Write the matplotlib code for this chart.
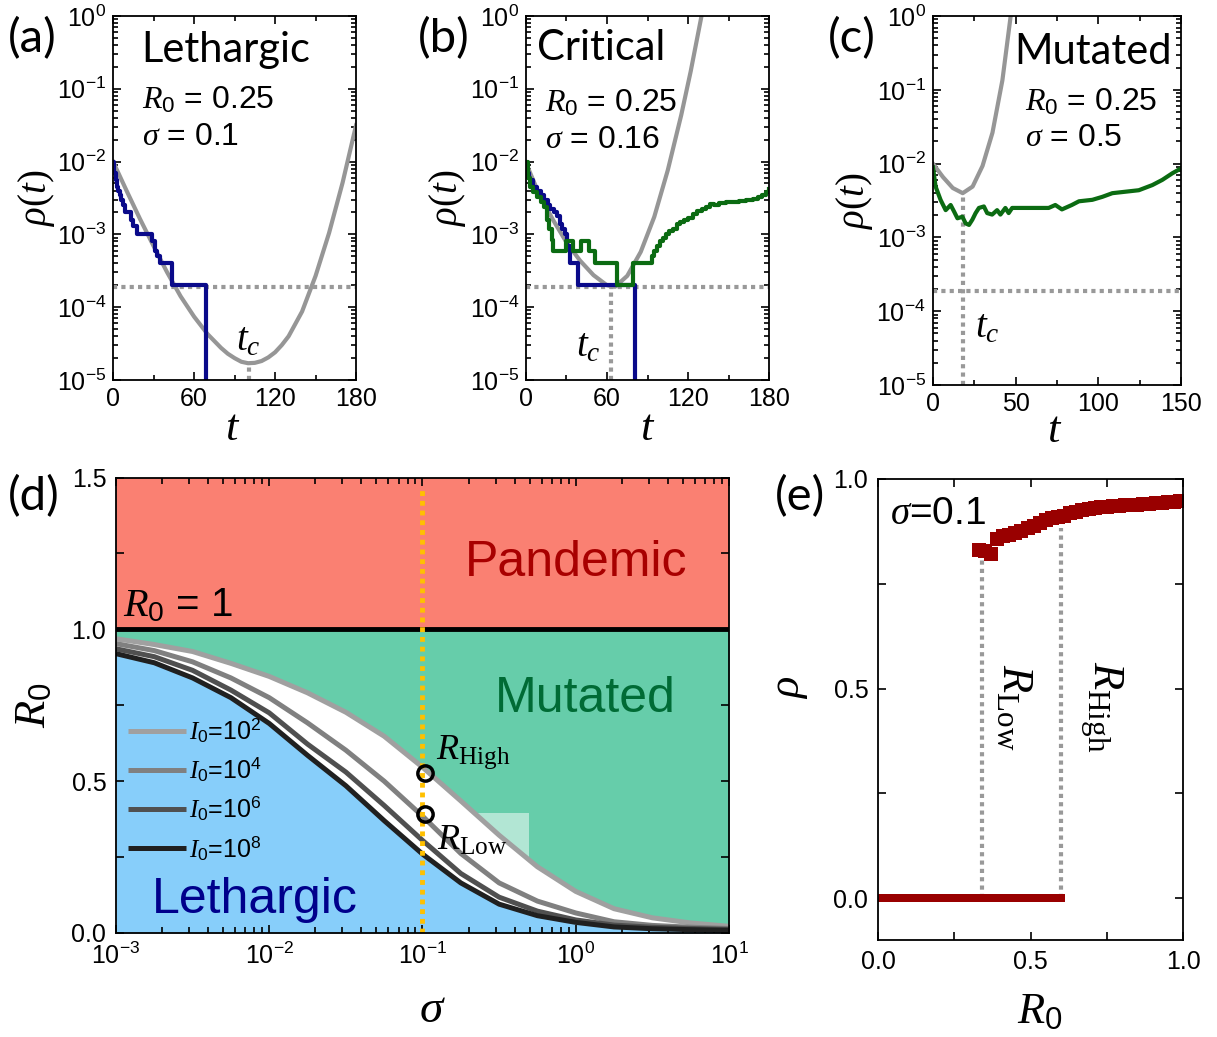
import matplotlib
matplotlib.use('Agg')
import matplotlib.pyplot as plt
import numpy as np
from matplotlib.ticker import MultipleLocator, LogLocator, NullFormatter
from matplotlib.patches import Rectangle

plt.rcParams['font.family'] = ['Liberation Sans', 'DejaVu Sans']
plt.rcParams['mathtext.fontset'] = 'custom'
plt.rcParams['mathtext.rm'] = 'Liberation Sans'
plt.rcParams['mathtext.it'] = 'Liberation Serif:italic'
plt.rcParams['mathtext.sf'] = 'Liberation Serif'
plt.rcParams['mathtext.bf'] = 'Liberation Sans:bold'

# ---------------- panel (a): lethargic ----------------
t_gray_a = [0, 10, 20, 30, 40, 50, 60, 70, 80, 85, 90, 95, 100, 105, 110, 115, 120, 125, 130,
            140, 150, 160, 170, 180]
log_gray_a = [-2.0, -2.40, -2.79, -3.16, -3.52, -3.85, -4.13, -4.37, -4.56, -4.64, -4.70,
              -4.75, -4.77, -4.765, -4.74, -4.69, -4.62, -4.52, -4.40, -4.06, -3.57, -2.98,
              -2.29, -1.5]
t_blue_a = [0, 1, 2, 3, 4, 5, 6, 7, 9, 11, 13, 15, 17.5, 29, 31, 32.5, 35, 44, 69]
rho_blue_a = [1e-2, 7e-3, 5.5e-3, 4.5e-3, 4e-3, 3.5e-3, 3e-3, 2.5e-3, 2e-3, 2e-3, 1.6e-3,
              1.3e-3, 1e-3, 8e-4, 6e-4, 5e-4, 4e-4, 2e-4, 1e-7]
tc_a, rho_min_a = 101, 1.7e-5

# ---------------- panel (b): critical ----------------
t_gray_b = [0, 10, 20, 30, 40, 50, 60, 66, 75, 85, 95, 105, 115, 122, 130, 133]
log_gray_b = [-2.02, -2.46, -2.80, -3.11, -3.36, -3.56, -3.70, -3.72, -3.57, -3.24, -2.76,
              -2.12, -1.36, -0.76, 0.0, 0.3]
t_blue_b = [0, 1, 2, 3, 5, 8, 11, 13, 16, 18, 21, 23, 25, 27, 29, 30.5, 32.5, 38.5, 80.7]
rho_blue_b = [1e-2, 7e-3, 6e-3, 5.5e-3, 4.5e-3, 4e-3, 3.5e-3, 3e-3, 2.5e-3, 2.2e-3, 2e-3,
              1.8e-3, 1.4e-3, 1.2e-3, 1e-3, 7e-4, 4e-4, 2e-4, 1e-7]
t_green_b = [0, 1.5, 3, 5, 8, 11, 13, 15.3, 17, 19, 20.2, 30, 35, 40.5, 47, 51, 67.5, 79.5,
             93.5, 95, 97, 99, 101.5, 104, 106, 109, 112, 114, 117, 120, 124, 127, 130, 133,
             136, 139, 143, 148, 153, 158, 163, 168, 172, 175, 178, 180]
rho_green_b = [1e-2, 6e-3, 4.5e-3, 3.8e-3, 3.3e-3, 2.8e-3, 2.4e-3, 1.6e-3, 1.2e-3, 8.4e-4,
               6e-4, 8e-4, 6e-4, 8e-4, 6e-4, 4e-4, 2e-4, 4e-4, 5e-4, 6e-4, 7e-4, 8e-4, 9e-4,
               1e-3, 1.1e-3, 1.2e-3, 1.4e-3, 1.5e-3, 1.6e-3, 1.7e-3, 1.9e-3, 2.1e-3, 2.2e-3,
               2.4e-3, 2.6e-3, 2.5e-3, 2.7e-3, 2.75e-3, 2.8e-3, 2.85e-3, 2.95e-3, 3.1e-3,
               3.3e-3, 3.5e-3, 3.8e-3, 4.2e-3]
tc_b = 62.7

# ---------------- panel (c): mutated ----------------
t_gray_c = [0, 6, 12, 18, 24, 30, 36, 42, 47, 49]
log_gray_c = [-2.0, -2.18, -2.33, -2.40, -2.31, -2.03, -1.58, -0.87, 0.0, 0.4]
t_green_c = [0, 1.6, 4.6, 7.7, 10.7, 12.8, 14.8, 17.8, 19.8, 21.8, 23.8, 25.8, 27.8, 30.8,
             32.8, 35.8, 38.8, 40.8, 43.8, 45.8, 47.9, 55.9, 70, 74, 78, 84, 88.3, 96.4,
             102.4, 108.5, 116.5, 124.5, 132.7, 138.7, 144.8, 148.8, 150]
log_green_c = [-2.05, -2.31, -2.49, -2.63, -2.56, -2.65, -2.74, -2.72, -2.81, -2.83, -2.76,
               -2.67, -2.60, -2.58, -2.67, -2.69, -2.63, -2.69, -2.60, -2.67, -2.60, -2.60,
               -2.60, -2.56, -2.62, -2.56, -2.51, -2.49, -2.45, -2.40, -2.38, -2.36, -2.29,
               -2.22, -2.13, -2.08, -2.06]
tc_c, rho_min_c = 18.1, 3.9e-3
rho_threshold = 1.9e-4

# ---------------- panel (d): phase diagram ----------------
sigma_d = [1e-3, 10**-2.75, 10**-2.5, 10**-2.25, 1e-2, 10**-1.75, 10**-1.5, 10**-1.25, 1e-1,
           10**-0.75, 10**-0.5, 10**-0.25, 1e0, 10**0.25, 10**0.5, 10**0.75, 1e1]
r0_i2 = [0.969, 0.950, 0.927, 0.888, 0.845, 0.791, 0.727, 0.648, 0.546, 0.435, 0.322, 0.218,
         0.137, 0.080, 0.050, 0.033, 0.022]
r0_i4 = [0.953, 0.930, 0.893, 0.840, 0.775, 0.692, 0.602, 0.500, 0.385, 0.262, 0.165, 0.105,
         0.066, 0.037, 0.025, 0.019, 0.015]
r0_i6 = [0.936, 0.910, 0.865, 0.800, 0.725, 0.622, 0.530, 0.420, 0.305, 0.196, 0.118, 0.072,
         0.043, 0.026, 0.019, 0.015, 0.012]
r0_i8 = [0.920, 0.890, 0.840, 0.775, 0.690, 0.585, 0.485, 0.370, 0.260, 0.165, 0.095, 0.057,
         0.035, 0.020, 0.014, 0.011, 0.009]
i0_labels = [r'$I_0$=10$^2$', r'$I_0$=10$^4$', r'$I_0$=10$^6$', r'$I_0$=10$^8$']
i0_colors = ['#a0a0a0', '#808080', '#505050', '#202020']
sigma_cut = 0.1
r_high_d, r_low_d, sigma_mark = 0.526, 0.392, 0.104

# ---------------- panel (e): rho vs R0 at sigma=0.1 ----------------
r0_lower = [0.00, 0.02, 0.04, 0.06, 0.08, 0.10, 0.12, 0.14, 0.16, 0.18, 0.20, 0.22, 0.24,
            0.26, 0.28, 0.30, 0.32, 0.34, 0.36, 0.38, 0.40, 0.42, 0.44, 0.46, 0.48, 0.50,
            0.52, 0.54, 0.56, 0.58, 0.60]
rho_lower = [0.0] * len(r0_lower)
r0_upper = [0.33, 0.35, 0.37, 0.39, 0.41, 0.43, 0.45, 0.47, 0.49, 0.51, 0.53, 0.55, 0.57,
            0.59, 0.61, 0.63, 0.65, 0.67, 0.69, 0.71, 0.73, 0.75, 0.77, 0.79, 0.81, 0.83,
            0.85, 0.87, 0.89, 0.91, 0.93, 0.95, 0.97, 0.99]
rho_upper = [0.831, 0.828, 0.822, 0.857, 0.863, 0.867, 0.871, 0.876, 0.884, 0.889, 0.895,
             0.903, 0.907, 0.910, 0.912, 0.918, 0.922, 0.925, 0.928, 0.930, 0.932, 0.933,
             0.935, 0.936, 0.937, 0.938, 0.939, 0.940, 0.941, 0.942, 0.943, 0.944, 0.945,
             0.947]
r_low_e, rho_low_e = 0.34, 0.815
r_high_e, rho_high_e = 0.599, 0.883

GRAY = '#969696'
DOT = '#999999'
BLUE = '#0a0a8a'
GREEN = '#0b6b12'
calib = ['Lato', 'DejaVu Sans']
TICK = 18

fig = plt.figure(figsize=(12.17, 10.37), dpi=100)


def style_time_ax(ax, xmax, major, minor):
    ax.set_yscale('log')
    ax.set_ylim(1e-5, 1)
    ax.set_xlim(0, xmax)
    ax.xaxis.set_major_locator(MultipleLocator(major))
    ax.xaxis.set_minor_locator(MultipleLocator(minor))
    ax.yaxis.set_major_locator(LogLocator(base=10, numticks=10))
    ax.yaxis.set_minor_locator(LogLocator(base=10, subs=np.arange(2, 10), numticks=10))
    ax.yaxis.set_minor_formatter(NullFormatter())
    ax.tick_params(which='both', direction='in', top=True, right=True, labelsize=TICK, width=1.2)
    ax.tick_params(which='major', length=6, pad=5)
    ax.tick_params(which='minor', length=3.5)
    for s in ax.spines.values():
        s.set_linewidth(1.3)


def add_params(ax, x, y0, y1, sig, ha='left'):
    ax.text(x, y0, r'$R_0$ = 0.25', transform=ax.transAxes, fontsize=23, ha=ha, va='center')
    ax.text(x, y1, r'$\sigma$ = ' + sig, transform=ax.transAxes, fontsize=23, ha=ha, va='center')


def add_time_labels(ax, ylx, xlx, xly):
    ax.set_ylabel(r'$\rho\mathsf{(}t\mathsf{)}$', fontsize=28, va='center')
    ax.yaxis.set_label_coords(ylx, 0.5)
    ax.set_xlabel(r'$t$', fontsize=32, va='center')
    ax.xaxis.set_label_coords(xlx, xly)


# (a)
ax = fig.add_axes([0.0929, 0.6336, 0.1997, 0.3510])
ax.plot(t_gray_a, 10 ** np.array(log_gray_a), color=GRAY, lw=3)
ax.axhline(rho_threshold, color=DOT, lw=3, ls=(0, (1, 1)))
ax.plot([tc_a, tc_a], [1e-5, rho_min_a], color=DOT, lw=3, ls=(0, (1, 1)))
ax.plot(t_blue_a, rho_blue_a, color=BLUE, lw=3, drawstyle='steps-post')
style_time_ax(ax, 180, 60, 30)
ax.text(0.115, 0.907, 'Lethargic', transform=ax.transAxes, fontsize=30, family=calib, va='center')
add_params(ax, 0.119, 0.769, 0.668, '0.1')
ax.text(100, 10 ** -4.45, r'$t_c$', fontsize=28, ha='center', va='center')
add_time_labels(ax, -0.315, 0.49, -0.132)

# (b)
ax = fig.add_axes([0.4322, 0.6336, 0.1997, 0.3510])
ax.plot(t_gray_b, 10 ** np.array(log_gray_b), color=GRAY, lw=3)
ax.axhline(rho_threshold, color=DOT, lw=3, ls=(0, (1, 1)))
ax.plot([tc_b, tc_b], [1e-5, rho_threshold], color=DOT, lw=3, ls=(0, (1, 1)))
ax.plot(t_blue_b, rho_blue_b, color=BLUE, lw=3, drawstyle='steps-post')
ax.plot(t_green_b, rho_green_b, color=GREEN, lw=3, drawstyle='steps-post')
style_time_ax(ax, 180, 60, 30)
ax.text(0.045, 0.912, 'Critical', transform=ax.transAxes, fontsize=30, family=calib, va='center')
add_params(ax, 0.078, 0.761, 0.659, '0.16')
ax.text(46, 10 ** -4.54, r'$t_c$', fontsize=28, ha='center', va='center')
add_time_labels(ax, -0.325, 0.502, -0.132)

# (c)
ax = fig.add_axes([0.7666, 0.6287, 0.2038, 0.3558])
ax.plot(t_gray_c, 10 ** np.array(log_gray_c), color=GRAY, lw=3)
ax.axhline(rho_threshold, color=DOT, lw=3, ls=(0, (1, 1)))
ax.plot([tc_c, tc_c], [1e-5, rho_min_c], color=DOT, lw=3, ls=(0, (1, 1)))
ax.plot(t_green_c, 10 ** np.array(log_green_c), color=GREEN, lw=3)
style_time_ax(ax, 150, 50, 25)
ax.text(0.964, 0.902, 'Mutated', transform=ax.transAxes, fontsize=30, family=calib,
        ha='right', va='center')
add_params(ax, 0.371, 0.767, 0.669, '0.5')
ax.text(33, 10 ** -4.22, r'$t_c$', fontsize=28, ha='center', va='center')
add_time_labels(ax, -0.318, 0.49, -0.122)

# (d)
ax = fig.add_axes([0.0953, 0.1003, 0.5037, 0.4392])
ax.set_xscale('log')
ax.fill_between(sigma_d, 1.0, 1.5, color='#fa8072', lw=0)
ax.fill_between(sigma_d, r0_i2, 1.0, color='#66cdaa', lw=0)
ax.fill_between(sigma_d, r0_i8, r0_i2, color='white', lw=0)
ax.fill_between(sigma_d, 0, r0_i8, color='#87cefa', lw=0)
ax.axhline(1.0, color='black', lw=3.5)
for r0, lab, c in zip([r0_i2, r0_i4, r0_i6, r0_i8], i0_labels, i0_colors):
    ax.plot(sigma_d, r0, color=c, lw=3.6, label=lab, solid_capstyle='butt')
ax.add_patch(Rectangle((0.184, 0.24), 0.311, 0.154, facecolor='white', alpha=0.5, lw=0))
ax.plot([sigma_cut, sigma_cut], [0, 1.47], color='#ffc000', lw=3.5, ls=(0, (1, 1)))
ax.plot([sigma_mark, sigma_mark], [r_high_d, r_low_d], 'o', ms=11, mfc='none', mec='black',
        mew=2.5)
ax.set_xlim(1e-3, 1e1)
ax.set_ylim(0, 1.5)
ax.xaxis.set_major_locator(LogLocator(base=10, numticks=10))
ax.xaxis.set_minor_locator(LogLocator(base=10, subs=np.arange(2, 10), numticks=10))
ax.xaxis.set_minor_formatter(NullFormatter())
ax.yaxis.set_major_locator(MultipleLocator(0.5))
ax.yaxis.set_minor_locator(MultipleLocator(0.25))
ax.yaxis.set_major_formatter(lambda v, p: f'{v:.1f}')
ax.tick_params(which='both', direction='in', top=True, right=True, labelsize=TICK, width=1.2)
ax.tick_params(which='major', length=6, pad=7)
ax.tick_params(which='minor', length=4)
ax.tick_params(axis='y', which='minor', length=6)
for s in ax.spines.values():
    s.set_linewidth(1.3)
ax.text(1.0, 1.22, 'Pandemic', fontsize=36, color='#a80000', ha='center', va='center')
ax.text(1.15, 0.77, 'Mutated', fontsize=36, color='#006b35', ha='center', va='center')
ax.text(0.0081, 0.11, 'Lethargic', fontsize=36, color='#00008b', ha='center', va='center')
ax.text(1.11e-3, 1.08, r'$R_0$ = 1', fontsize=29, ha='left', va='center')
ax.text(0.122, 0.595, r'$R_{\mathsf{High}}$', fontsize=26, ha='left', va='center')
ax.text(0.124, 0.304, r'$R_{\mathsf{Low}}$', fontsize=26, ha='left', va='center')
leg = ax.legend(loc='upper left', bbox_to_anchor=(0.02, 0.475), frameon=False, fontsize=18,
                handlelength=2.3, handletextpad=0.15, labelspacing=0.42, borderaxespad=0,
                borderpad=0)
ax.set_ylabel(r'$R_0$', fontsize=32, va='center')
ax.yaxis.set_label_coords(-0.135, 0.5)
ax.set_xlabel(r'$\sigma$', fontsize=34, va='center')
ax.xaxis.set_label_coords(0.516, -0.169)

# (e)
ax = fig.add_axes([0.7215, 0.0935, 0.2506, 0.4446])
ax.plot([r_low_e, r_low_e], [0, rho_low_e], color=DOT, lw=3, ls=(0, (1, 1)))
ax.plot([r_high_e, r_high_e], [0, rho_high_e], color=DOT, lw=3, ls=(0, (1, 1)))
ax.plot(r0_lower, rho_lower, 's', color='#990000', ms=6, mew=0)
ax.plot(r0_upper, rho_upper, 's', color='#990000', ms=9.5, mew=0)
ax.set_xlim(0, 1)
ax.set_ylim(-0.1, 1.0)
ax.xaxis.set_major_locator(MultipleLocator(0.5))
ax.xaxis.set_minor_locator(MultipleLocator(0.25))
ax.yaxis.set_major_locator(MultipleLocator(0.5))
ax.yaxis.set_minor_locator(MultipleLocator(0.25))
ax.xaxis.set_major_formatter(lambda v, p: f'{v:.1f}')
ax.yaxis.set_major_formatter(lambda v, p: f'{v:.1f}')
ax.tick_params(which='both', direction='in', top=True, right=True, labelsize=TICK, width=1.2,
               length=6)
ax.tick_params(which='major', pad=7)
for s in ax.spines.values():
    s.set_linewidth(1.3)
ax.text(0.04, 0.917, r'$\sigma$=0.1', fontsize=28, ha='left', va='center')
ax.text(0.446, 0.456, r'$R_{\mathsf{Low}}$', fontsize=32, rotation=270, ha='center', va='center')
ax.text(0.732, 0.456, r'$R_{\mathsf{High}}$', fontsize=32, rotation=270, ha='center', va='center')
ax.set_ylabel(r'$\rho$', fontsize=32, va='center')
ax.yaxis.set_label_coords(-0.29, 0.547)
ax.set_xlabel(r'$R_0$', fontsize=32, va='center')
ax.xaxis.set_label_coords(0.531, -0.156)

for lab, x, y in [('(a)', 0.0066, 0.963), ('(b)', 0.343, 0.963), ('(c)', 0.680, 0.963),
                  ('(d)', 0.0066, 0.521), ('(e)', 0.637, 0.521)]:
    fig.text(x, y, lab, fontsize=34, family=calib, ha='left', va='center')

fig.savefig('out.png', dpi=100)
